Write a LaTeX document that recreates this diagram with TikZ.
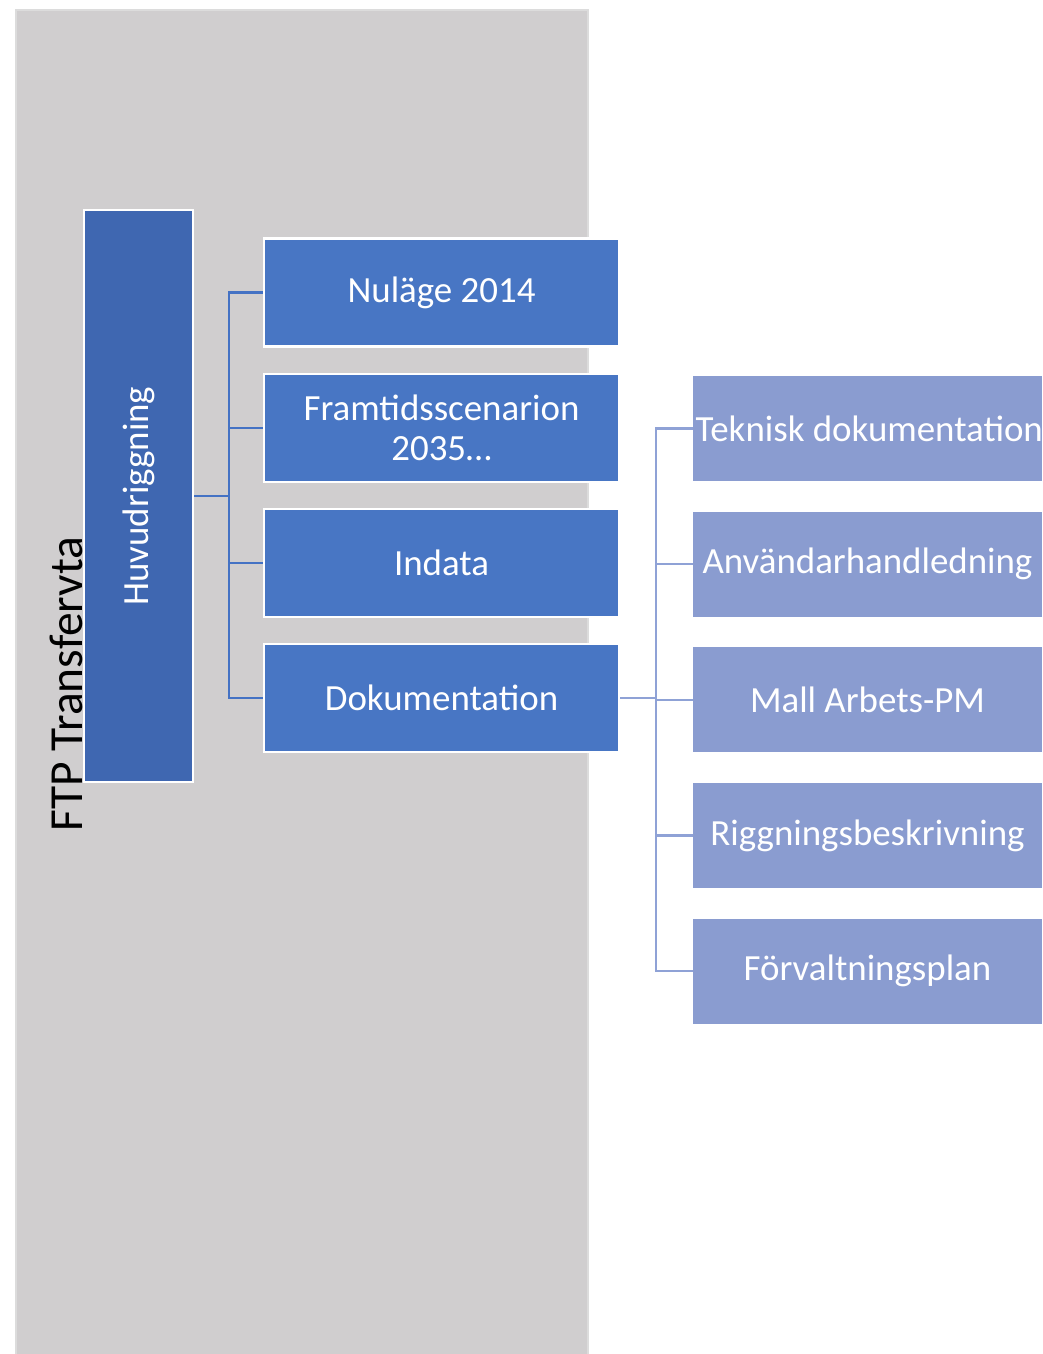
\documentclass[tikz,border=0pt]{standalone}
\usepackage{fontspec}
\setmainfont{Carlito}
\usetikzlibrary{positioning}

\definecolor{panelgray}{HTML}{D0CECF}
\definecolor{panelrim}{HTML}{DCDCDC}
\definecolor{rootblue}{HTML}{3F67B1}
\definecolor{midblue}{HTML}{4876C4}
\definecolor{paleblue}{HTML}{8A9CD0}
\definecolor{linkblue}{HTML}{4472C4}
\definecolor{linkpale}{HTML}{8FA2D6}

\begin{document}
\begin{tikzpicture}[
  x=0.02cm,
  y=-0.02cm,
  root box/.style={
    rectangle,
    fill=rootblue,
    draw=white,
    line width=1.2pt,
    minimum width=2.18cm,
    minimum height=11.44cm,
    text=white,
    font=\fontsize{21}{23}\selectfont
  },
  mid box/.style={
    rectangle,
    fill=midblue,
    draw=white,
    line width=1.2pt,
    minimum width=7.1cm,
    minimum height=2.16cm,
    align=center,
    text=white,
    font=\fontsize{21}{23}\selectfont
  },
  leaf box/.style={
    rectangle,
    fill=paleblue,
    minimum width=6.98cm,
    minimum height=2.1cm,
    text=white,
    font=\fontsize{21}{23}\selectfont
  },
  mid link/.style={
    draw=linkblue,
    line width=1.2pt
  },
  leaf link/.style={
    draw=linkpale,
    line width=1.2pt
  },
]
\clip (0,0) rectangle (1042,1354);
\fill[panelgray] (16,10) rectangle (588,1360);
\draw[panelrim,line width=1.2pt] (16,1360) -- (16,10) -- (588,10) -- (588,1360);

\node[rotate=90,font=\fontsize{27}{30}\selectfont] (ftp) at (66,684) {FTP Transfervta};
\node[root box] (huvud) at (138.5,496) {};
\node[rotate=90,text=white,font=\fontsize{21}{23}\selectfont] (huvudtext) at (huvud.center) {Huvudriggning};

\node[mid box] (nulage) at (441.5,292.5) {Nuläge 2014};
\node[mid box,below=0.5cm of nulage,inner sep=0pt] (framtid) {Framtidsscenarion\\2035\ldots};
\node[mid box,below=0.5cm of framtid] (indata) {Indata};
\node[mid box,below=0.5cm of indata] (dok) {Dokumentation};

\node[leaf box] (teknisk) at (867.5,428.5) {\makebox[0pt][c]{\hspace{2pt}Teknisk dokumentation}};
\node[leaf box,below=0.6cm of teknisk] (anvand) {Användarhandledning};
\node[leaf box,below=0.6cm of anvand] (mall) {Mall Arbets-PM};
\node[leaf box,below=0.6cm of mall] (rigg) {Riggningsbeskrivning};
\node[leaf box,below=0.6cm of rigg] (forvalt) {Förvaltningsplan};

\coordinate (hubA) at (229,496);
\draw[mid link] (huvud.east) -- (hubA);
\draw[mid link] (hubA) |- (nulage.west);
\draw[mid link] (hubA) |- (framtid.west);
\draw[mid link] (hubA) |- (indata.west);
\draw[mid link] (hubA) |- (dok.west);

\coordinate (hubB) at (656,0 |- dok.east);
\draw[leaf link] (dok.east) -- (hubB);
\draw[leaf link] (hubB) |- (teknisk.west);
\draw[leaf link] (hubB) |- (anvand.west);
\draw[leaf link] (hubB) |- (mall.west);
\draw[leaf link] (hubB) |- (rigg.west);
\draw[leaf link] (hubB) |- (forvalt.west);
\end{tikzpicture}
\end{document}
